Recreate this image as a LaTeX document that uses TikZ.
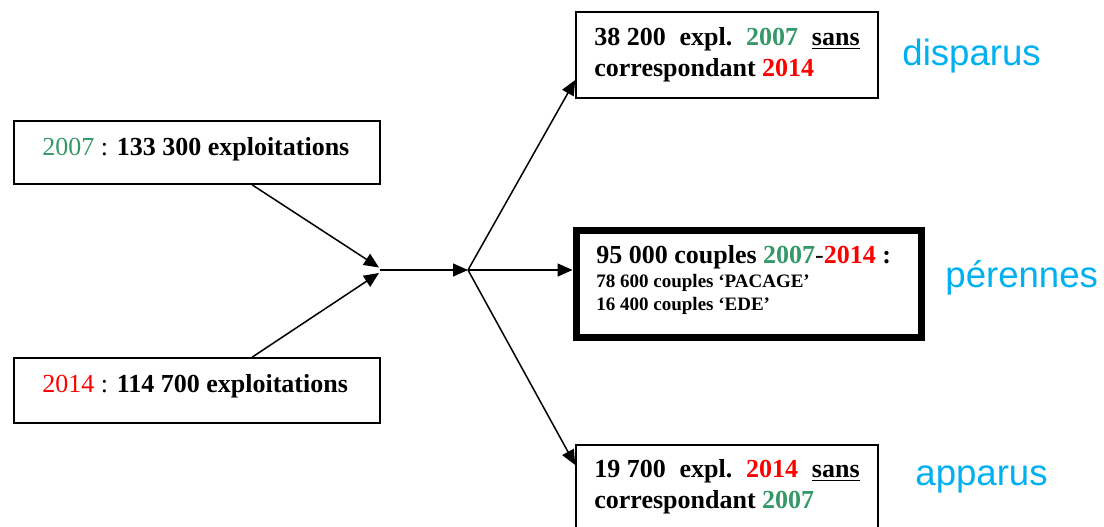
\documentclass[tikz,border=0pt]{standalone}
\usepackage{fontspec}
\setmainfont{Liberation Serif}
\newfontfamily\labelfont{Liberation Sans}
\usetikzlibrary{arrows.meta}
\definecolor{yrgreen}{RGB}{51,153,102}
\definecolor{yrred}{RGB}{255,0,0}
\definecolor{tagcyan}{RGB}{0,176,240}
\newcommand{\gap}{\hspace{0.53em}}
\begin{document}
\begin{tikzpicture}[x=0.5pt,y=-0.5pt,
  box/.style={draw,line width=0.75pt,inner sep=0pt},
  bigbox/.style={draw,line width=3.5pt,inner sep=0pt},
  txt/.style={anchor=base west,inner sep=0pt,font=\fontsize{13pt}{15pt}\selectfont},
  boldtxt/.style={txt,font=\fontsize{13pt}{15pt}\selectfont\bfseries},
  small/.style={anchor=base west,inner sep=0pt,font=\fontsize{9.5pt}{11pt}\selectfont\bfseries},
  tag/.style={anchor=base west,inner sep=0pt,text=tagcyan,font=\labelfont\fontsize{18.3pt}{22pt}\selectfont},
  conn/.style={line width=0.75pt,-{Triangle[length=7.5pt,width=6.5pt]}}]
\useasboundingbox (0,0) rectangle (1104,526);
\clip (0,0) rectangle (1104,526);

% source boxes
\node[box,minimum width=183pt,minimum height=31.5pt] (y07) at (197,152.5) {};
\node[box,minimum width=183pt,minimum height=32.5pt] (y14) at (197,390.5) {};
\node[txt] (t07) at (42,155) {\textcolor{yrgreen}{2007} : \textbf{133 300 exploitations}};
\node[txt] (t14) at (42,392) {\textcolor{yrred}{2014} : \textbf{114 700 exploitations}};

% result boxes
\node[box,minimum width=151pt,minimum height=43pt] (gone) at (727,55) {};
\node[bigbox,minimum width=172.5pt,minimum height=53.5pt] (kept) at (748.5,283.5) {};
\node[box,minimum width=151pt,minimum height=50pt] (new) at (727,495) {};

\node[boldtxt] (g1) at (594,45)
  {38 200\gap expl.\gap\textcolor{yrgreen}{2007}\gap\underline{sans}};
\node[boldtxt] (g2) at (594,76)
  {correspondant \textcolor{yrred}{2014}};

\node[boldtxt] (k1) at (596,263)
  {95 000 couples \textcolor{yrgreen}{2007}\textmd{-}\textcolor{yrred}{2014} :};
\node[small] (k2) at (596,287) {78 600 couples ‘PACAGE’};
\node[small] (k3) at (596,310) {16 400 couples ‘EDE’};

\node[boldtxt] (n1) at (594,477)
  {19 700\gap expl.\gap\textcolor{yrred}{2014}\gap\underline{sans}};
\node[boldtxt] (n2) at (594,508)
  {correspondant \textcolor{yrgreen}{2007}};

% side labels
\node[tag] (lg) at (902,65) {disparus};
\node[tag] (lk) at (945,287) {pérennes};
\node[tag] (ln) at (915,485) {apparus};

% merge and split points
\coordinate (m1) at (379,267.5);
\coordinate (m2) at (379,273);
\coordinate (m) at (380,270);
\coordinate (s) at (468,270);

\draw[conn] ([xshift=27.5pt]y07.south) -- (m1);
\draw[conn] ([xshift=27.5pt]y14.north) -- (m2);
\draw[conn] (m) -- (s);
\draw[conn] (s) -- ([yshift=-12.5pt]gone.west);
\draw[conn] (s) -- ([yshift=6.75pt]kept.west);
\draw[conn] (s) -- ([yshift=15pt]new.west);
\end{tikzpicture}
\end{document}
